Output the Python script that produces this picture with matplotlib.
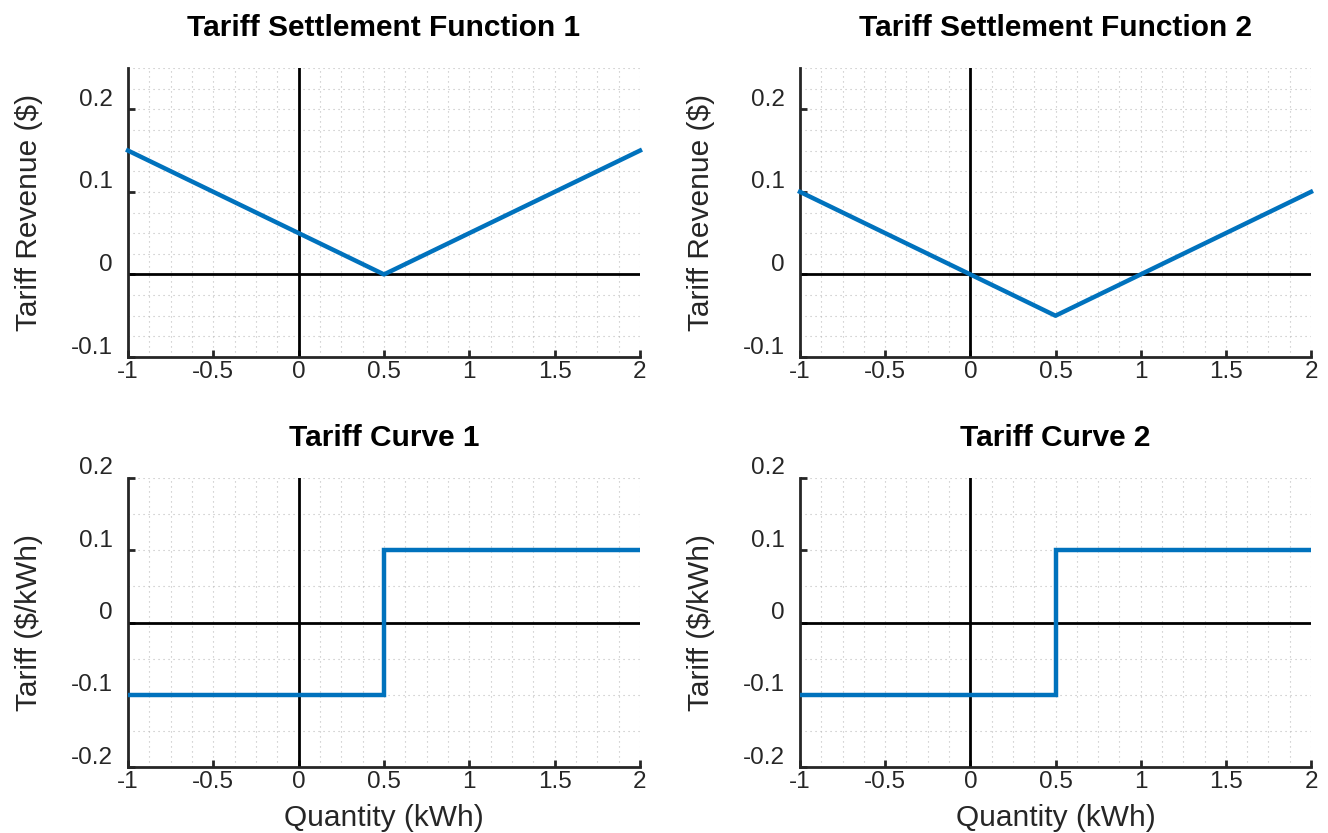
import numpy as np
import matplotlib
matplotlib.use("Agg")
import matplotlib.pyplot as plt
from matplotlib.ticker import MultipleLocator
from matplotlib.transforms import ScaledTranslation

# settlement functions (revenue vs quantity), piecewise linear
quantity = [-1, 0.5, 2]
revenue_1 = [0.15, 0.0, 0.15]
revenue_2 = [0.1, -0.05, 0.1]

# tariff curves: price per block between the breakpoints
block_edges = [-1, 0.5, 2]
tariff_1 = [-0.1, 0.1]
tariff_2 = [-0.1, 0.1]

x_ticks = [-1, -0.5, 0, 0.5, 1, 1.5, 2]
x_ticklabels = ['-1', '-0.5', '0', '0.5', '1', '1.5', '2']
rev_ticks = [-0.1, 0, 0.1, 0.2]
rev_ticklabels = ['-0.1', '0', '0.1', '0.2']
tariff_ticks = [-0.2, -0.1, 0, 0.1, 0.2]
tariff_ticklabels = ['-0.2', '-0.1', '0', '0.1', '0.2']

blue = '#0072BD'
plt.rcParams['font.family'] = ['Liberation Sans', 'DejaVu Sans']

W, H = 1328, 833
fig = plt.figure(figsize=(W / 100, H / 100), dpi=100)


def make_axes(x0, y0, x1, y1):
    return fig.add_axes([x0 / W, 1 - y1 / H, (x1 - x0) / W, (y1 - y0) / H])


def style(ax, ylim, yticks, yticklabels, ystep, title, ylabel, xlabel=None):
    ax.set_xlim(-1, 2)
    ax.set_ylim(*ylim)
    ax.set_xticks(x_ticks)
    ax.set_xticklabels(x_ticklabels)
    ax.set_yticks(yticks)
    ax.set_yticklabels(yticklabels)
    ax.xaxis.set_minor_locator(MultipleLocator(0.125))
    ax.yaxis.set_minor_locator(MultipleLocator(ystep))
    ax.grid(which='both', linestyle=(0, (1, 3.5)), color='#bdbdbd', linewidth=0.8)
    ax.set_axisbelow(True)
    for s in ['top', 'right']:
        ax.spines[s].set_visible(False)
    for s in ['left', 'bottom']:
        ax.spines[s].set_linewidth(2)
        ax.spines[s].set_color('#262626')
    ax.tick_params(which='major', direction='in', length=5, width=2,
                   color='#262626', labelsize=17.5, labelcolor='#262626')
    ax.tick_params(axis='y', pad=11)
    ax.tick_params(axis='x', pad=3)
    ax.tick_params(which='minor', length=0)
    # y labels sit a little above their tick marks
    for lab in ax.get_yticklabels():
        lab.set_transform(lab.get_transform() + ScaledTranslation(0, 0.12, fig.dpi_scale_trans))
    ax.axhline(0, color='black', linewidth=2, zorder=2)
    ax.axvline(0, color='black', linewidth=2, zorder=2)
    ax.set_title(title, fontsize=21.5, fontweight='bold', pad=23)
    ax.set_ylabel(ylabel, fontsize=21.5, color='#262626', labelpad=20)
    if xlabel:
        ax.set_xlabel(xlabel, fontsize=21.5, color='#262626', labelpad=8)


ax1 = make_axes(128, 68, 640, 357)
ax2 = make_axes(800, 68, 1311, 357)
ax3 = make_axes(128, 478, 640, 767)
ax4 = make_axes(800, 478, 1311, 767)

ax1.plot(quantity, revenue_1, color=blue, linewidth=3.2, zorder=3, clip_on=False)
ax2.plot(quantity, revenue_2, color=blue, linewidth=3.2, zorder=3, clip_on=False)
ax3.stairs(tariff_1, block_edges, baseline=None, color=blue, linewidth=3.2, zorder=3)
ax4.stairs(tariff_2, block_edges, baseline=None, color=blue, linewidth=3.2, zorder=3)

style(ax1, (-0.1, 0.25), rev_ticks, rev_ticklabels, 0.025,
      'Tariff Settlement Function 1', 'Tariff Revenue ($)')
style(ax2, (-0.1, 0.25), rev_ticks, rev_ticklabels, 0.025,
      'Tariff Settlement Function 2', 'Tariff Revenue ($)')
style(ax3, (-0.2, 0.2), tariff_ticks, tariff_ticklabels, 0.05,
      'Tariff Curve 1', 'Tariff ($/kWh)', 'Quantity (kWh)')
style(ax4, (-0.2, 0.2), tariff_ticks, tariff_ticklabels, 0.05,
      'Tariff Curve 2', 'Tariff ($/kWh)', 'Quantity (kWh)')

fig.savefig('out.png', dpi=100, facecolor='white')
